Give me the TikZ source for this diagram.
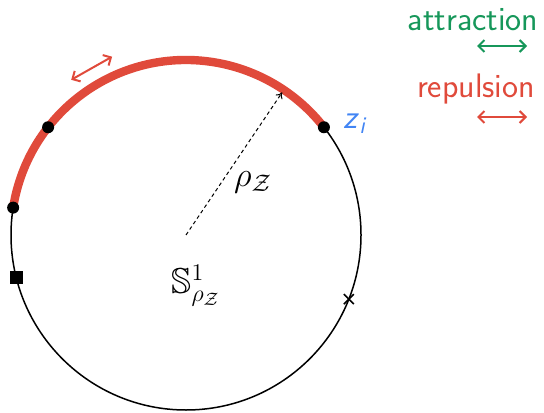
\documentclass[tikz,border=0pt]{standalone}
\usepackage{amsmath,amssymb}
\usetikzlibrary{arrows.meta}
\definecolor{rep}{HTML}{E04A3B}
\definecolor{att}{HTML}{16975A}
\definecolor{zblue}{HTML}{4285F4}
\tikzset{
  circ/.style={line width=0.75pt, black},
  reparc/.style={line width=4.2pt, rep},
  dotpt/.style={circle, fill=black, inner sep=0pt, minimum size=6pt},
  sqpt/.style={rectangle, fill=black, inner sep=0pt, minimum size=6.5pt},
  crosspt/.style={line width=0.8pt, black},
  legarrow/.style={line width=1pt, {Straight Barb[length=3pt,width=6pt]}-{Straight Barb[length=3pt,width=6pt]}},
  legtext/.style={font=\sffamily\fontsize{17}{20}\selectfont, inner sep=0pt},
  mathlbl/.style={font=\fontsize{18}{21}\selectfont, inner sep=0pt},
  radius arrow/.style={line width=0.5pt, dash pattern=on 1.8pt off 1.5pt, -{To[length=3pt,width=4pt]}}
}
\begin{document}
\begin{tikzpicture}[x=0.5pt,y=0.5pt]
\useasboundingbox (0,0) rectangle (544,412);
\def\R{87.5pt}
\coordinate (c) at (186,177);
% circle
\draw[circ] (c) circle[radius=\R];
% red arc
\draw[reparc] ([shift={(171:\R)}]c) arc[start angle=171, end angle=38, radius=\R];
% radius arrow
\coordinate (rtip) at ([shift={(56:86pt)}]c);
\draw[radius arrow] (c) -- (rtip);
% points
\node[dotpt] (zi) at ([shift={(38:\R)}]c) {};
\node[dotpt] (p2) at ([shift={(142:\R)}]c) {};
\node[dotpt] (p3) at ([shift={(171:\R)}]c) {};
\node[sqpt] (p4) at ([shift={(194:\R)}]c) {};
\coordinate (p5) at ([shift={(-21.5:\R)}]c);
\draw[crosspt] ([shift={(-5,-5)}]p5) -- ([shift={(5,5)}]p5);
\draw[crosspt] ([shift={(-5,5)}]p5) -- ([shift={(5,-5)}]p5);
% labels
\node[font=\sffamily\fontsize{17}{20}\selectfont, text=zblue, anchor=west, inner sep=0pt] (zil) at (343,288) {\textit{z}$_{\text{\sffamily\itshape i}}$};
\node[mathlbl] (rho) at (253,230) {$\rho_{\mathcal Z}$};
\node[mathlbl] (S) at (196,126) {$\mathbb S^1_{\rho_{\mathcal Z}}$};
% tangent repulsion arrow
\coordinate (tm) at ([shift={(119.5:95.8pt)}]c);
\coordinate (ta) at ([shift={(29.5:-11.75pt)}]tm);
\coordinate (tb) at ([shift={(29.5:11.75pt)}]tm);
\draw[legarrow, rep] (ta) -- (tb);
% legend
\node[legtext, text=att] (att) at (473,392) {attraction};
\coordinate (a1) at (477,366);
\coordinate (a2) at (527,366);
\draw[legarrow, att] (a1) -- (a2);
\node[legtext, text=rep] (rep) at (476,323) {repulsion};
\coordinate (r1) at (477,295);
\coordinate (r2) at (527,295);
\draw[legarrow, rep] (r1) -- (r2);
\end{tikzpicture}
\end{document}
